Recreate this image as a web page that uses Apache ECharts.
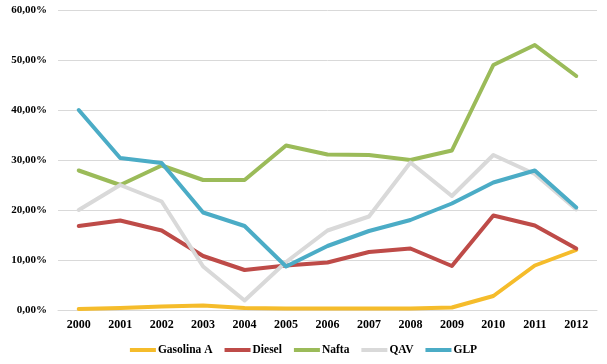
<!DOCTYPE html>
<html><head><meta charset="utf-8">
<script src="https://cdn.jsdelivr.net/npm/echarts@6/dist/echarts.min.js"></script>
<style>html,body{margin:0;padding:0;background:#fff}#c{width:607px;height:364px}</style>
</head><body><div id="c"></div>
<script>
const years = ['2000','2001','2002','2003','2004','2005','2006','2007','2008','2009','2010','2011','2012'];
const gasolinaA = [0.2,0.4,0.7,0.9,0.4,0.3,0.3,0.3,0.3,0.5,2.8,8.9,12.0];
const diesel = [16.8,17.9,15.9,10.8,8.0,8.9,9.5,11.6,12.3,8.8,18.9,16.9,12.3];
const nafta = [27.9,25.0,28.9,26.0,26.0,32.9,31.1,31.0,30.0,31.9,49.0,53.0,46.8];
const qav = [20.0,25.0,21.7,8.7,1.9,9.6,15.9,18.7,29.5,22.8,31.0,27.2,20.1];
const glp = [40.0,30.4,29.4,19.5,16.8,8.7,12.8,15.8,18.0,21.3,25.5,27.9,20.5];
const yTicks = {min:0, max:60, interval:10};
const names = ['Gasolina A','Diesel','Nafta','QAV','GLP'];
const colors = ['#F5BC2B','#BE4B48','#9BBB59','#D9D9D9','#4BACC6'];
const dataSets = [gasolinaA, diesel, nafta, qav, glp];
const font = '"Liberation Serif", "Times New Roman", serif';
const chart = echarts.init(document.getElementById('c'));
chart.setOption({
  animation:false,
  color: colors,
  grid:{left:58,right:10,top:10,bottom:54,containLabel:false},
  legend:{bottom:3,left:'center',itemWidth:26,itemHeight:4,itemGap:12,
    textStyle:{fontFamily:font,fontWeight:'bold',fontSize:11.5,color:'#000',padding:[0,0,0,-3]},
    data: names.map(n=>({name:n,icon:'rect'}))},
  xAxis:{type:'category',data:years,boundaryGap:true,
    axisLine:{lineStyle:{color:'#D9D9D9',width:1}},axisTick:{show:false},
    axisLabel:{fontFamily:font,fontWeight:'bold',fontSize:12,color:'#000',margin:9}},
  yAxis:{type:'value',min:yTicks.min,max:yTicks.max,interval:yTicks.interval,
    axisLine:{show:false},axisTick:{show:false},
    splitLine:{lineStyle:{color:'#D9D9D9',width:1}},
    axisLabel:{fontFamily:font,fontWeight:'bold',fontSize:11,color:'#000',margin:11,
      formatter:v=>v.toFixed(2).replace('.',',')+'%'}},
  series: names.map((n,i)=>({name:n,type:'line',data:dataSets[i],symbol:'none',
    lineStyle:{width:4,color:colors[i],join:'round',cap:'round'},itemStyle:{color:colors[i]}}))
});
</script></body></html>
